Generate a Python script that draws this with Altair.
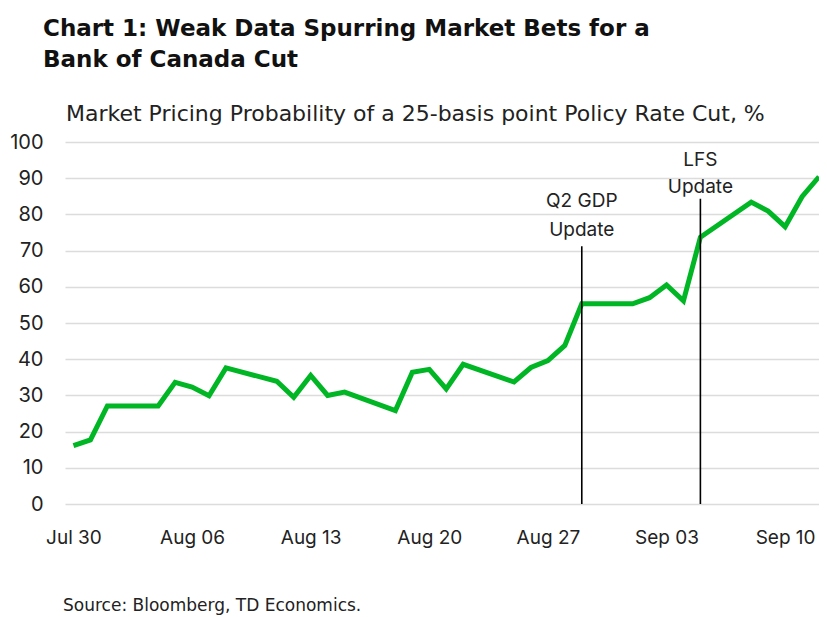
import altair as alt
import pandas as pd

# ---- data ----
dates = [
    "2025-07-30", "2025-07-31", "2025-08-01", "2025-08-04", "2025-08-05",
    "2025-08-06", "2025-08-07", "2025-08-08", "2025-08-11", "2025-08-12",
    "2025-08-13", "2025-08-14", "2025-08-15", "2025-08-18", "2025-08-19",
    "2025-08-20", "2025-08-21", "2025-08-22", "2025-08-25", "2025-08-26",
    "2025-08-27", "2025-08-28", "2025-08-29", "2025-09-01", "2025-09-02",
    "2025-09-03", "2025-09-04", "2025-09-05", "2025-09-08", "2025-09-09",
    "2025-09-10", "2025-09-11", "2025-09-12",
]
probability = [
    16.1, 17.7, 27.1, 27.1, 33.6,
    32.3, 29.9, 37.6, 33.9, 29.5,
    35.5, 30.0, 30.9, 25.8, 36.4,
    37.2, 31.8, 38.6, 33.7, 37.7,
    39.6, 43.8, 55.3, 55.3, 57.0,
    60.5, 56.1, 73.7, 83.4, 80.9,
    76.6, 84.9, 90.4,
]

event_dates = ["2025-08-29", "2025-09-05"]
event_line1 = ["Q2 GDP", "LFS"]
event_line2 = ["Update", "Update"]
event_rule_top = [71.2, 84.3]
event_label1_y = [83.6, 94.9]
event_label2_y = [75.8, 87.5]

tick_dates = ["2025-07-30", "2025-08-06", "2025-08-13", "2025-08-20",
              "2025-08-27", "2025-09-03", "2025-09-10"]
y_ticks = [0, 10, 20, 30, 40, 50, 60, 70, 80, 90, 100]

title_lines = ["Chart 1: Weak Data Spurring Market Bets for a", "Bank of Canada Cut"]
subtitle = "Market Pricing Probability of a 25-basis point Policy Rate Cut, %"
source = "Source: Bloomberg, TD Economics."

# ---- tables ----
df = pd.DataFrame({"date": dates, "value": probability})
ev = pd.DataFrame({
    "date": event_dates, "l1": event_line1, "l2": event_line2,
    "top": event_rule_top, "y1": event_label1_y, "y2": event_label2_y,
    "zero": [0, 0],
})

def ms(d):
    return int(pd.Timestamp(d, tz="UTC").value // 10**6)

x_domain = [ms("2025-07-29 12:00"), ms("2025-09-12 00:00")]
tick_ms = [ms(d) for d in tick_dates]

FONT = "Inter"
TFONT = "DejaVu Sans"
GREEN = "#00B624"

x_scale = alt.Scale(type="utc", domain=x_domain)
y_scale = alt.Scale(domain=[0, 100], nice=False)

x_axis = alt.Axis(
    values=tick_ms, labelExpr="utcFormat(datum.value, '%b %d')",
    grid=False, ticks=False, domain=False, labelPadding=24,
    labelFontSize=19, labelColor="#222222", labelFont=FONT,
    title=None,
)
y_axis = alt.Axis(
    values=y_ticks, grid=True, gridColor="#dcdcdc", gridWidth=1.6,
    ticks=False, domain=False, labelPadding=22, labelFontSize=20,
    labelColor="#222222", labelFont=FONT, title=None,
    labelOverlap=False,
)

def xe(field):
    return alt.X(field, type="temporal", scale=x_scale, axis=x_axis)

def ye(field):
    return alt.Y(field, type="quantitative", scale=y_scale, axis=y_axis)

line = alt.Chart(df).mark_line(color=GREEN, strokeWidth=5, strokeJoin="miter").encode(
    x=xe("date"), y=ye("value")
)

rules = alt.Chart(ev).mark_rule(color="#000000", strokeWidth=1.6).encode(
    x=xe("date"), y=ye("top"), y2="zero:Q"
)
lab1 = alt.Chart(ev).mark_text(
    font=FONT, fontSize=19, color="#222222", align="center", baseline="middle"
).encode(x=xe("date"), y=ye("y1"), text="l1:N")
lab2 = alt.Chart(ev).mark_text(
    font=FONT, fontSize=19, color="#222222", align="center", baseline="middle"
).encode(x=xe("date"), y=ye("y2"), text="l2:N")

def txt(s, x, y, size, weight="normal", font=FONT, color="#222222"):
    return alt.Chart(pd.DataFrame({"t": [s]})).mark_text(
        font=font, fontSize=size, fontWeight=weight, color=color,
        align="left", baseline="alphabetic",
    ).encode(text="t:N", x=alt.value(x), y=alt.value(y))

t1 = txt(title_lines[0], -22, -106, 23, "bold", TFONT, "#111111")
t2 = txt(title_lines[1], -22, -75, 23, "bold", TFONT, "#111111")
st = txt(subtitle, 1, -21, 22, "normal", TFONT)
src = txt(source, -2, 469, 17, "normal", TFONT)

chart = alt.layer(line, rules, lab1, lab2, t1, t2, st, src).properties(
    width=754, height=362,
    autosize=alt.AutoSizeParams(type="none"),
    padding={"left": 57, "top": 134, "right": 0, "bottom": 112},
).configure(background="white").configure_view(stroke=None)

chart.save("out.html", embed_options={"renderer": "svg", "actions": False})
